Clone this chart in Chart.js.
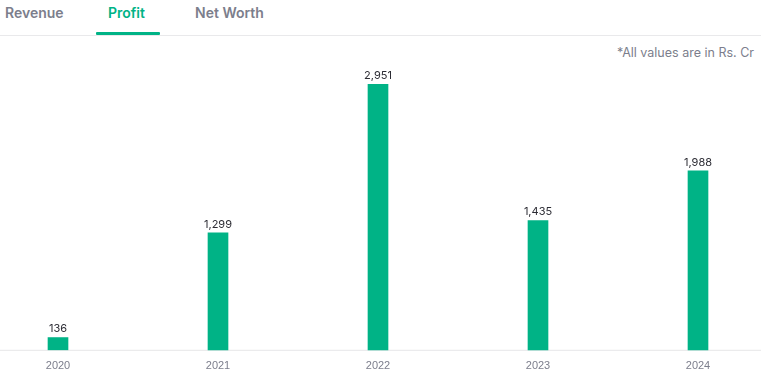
<!DOCTYPE html>
<html>
<head>
<meta charset="utf-8">
<script src="https://cdn.jsdelivr.net/npm/chart.js@4.4.1/dist/chart.umd.min.js"></script>
<style>
  body { margin: 0; width: 761px; height: 379px; overflow: hidden; background: #fff; font-family: Inter, "Noto Sans", sans-serif; position: relative; }
  .tabs { position: absolute; left: 0; top: 0; width: 761px; height: 35px; border-bottom: 1px solid #e9e9eb; }
  .tab { position: absolute; top: 4px; font-size: 14px; font-weight: 600; color: #7c7e8c; }
  .tab.active { color: #00b386; }
  .underline { position: absolute; left: 96px; top: 32px; width: 64px; height: 3px; background: #00b386; border-radius: 1px; }
  .note { position: absolute; right: 7px; top: 45px; font-size: 12.5px; color: #7c7e8c; }
  .wrap { position: absolute; left: 0; top: 36px; width: 761px; height: 354px; }
</style>
</head>
<body>
<div class="tabs">
  <span class="tab" style="left:5px">Revenue</span>
  <span class="tab active" style="left:108px">Profit</span>
  <span class="tab" style="left:195px">Net Worth</span>
  <div class="underline"></div>
</div>
<div class="note">*All values are in Rs. Cr</div>
<div class="wrap"><canvas id="grafico"></canvas></div>
<script>
// dados do gráfico
const years = ['2020', '2021', '2022', '2023', '2024'];
const profit = [136, 1299, 2951, 1435, 1988];

// rótulos acima das barras
const valueLabels = {
  id: 'valueLabels',
  afterDatasetsDraw(chart) {
    const c = chart.ctx;
    const meta = chart.getDatasetMeta(0);
    c.save();
    c.font = '11px Inter, "Noto Sans", sans-serif';
    c.fillStyle = '#2c2c34';
    c.textAlign = 'center';
    c.textBaseline = 'bottom';
    meta.data.forEach((bar, i) => {
      const p = bar.getProps(['x', 'y'], true);
      c.fillText(profit[i].toLocaleString('en-US'), p.x, p.y - 3);
    });
    c.restore();
  }
};

// linha de base em toda a largura
const baseLine = {
  id: 'baseLine',
  beforeDatasetsDraw(chart) {
    const c = chart.ctx;
    const y = chart.chartArea.bottom + 0.5;
    c.save();
    c.strokeStyle = '#e6e6e8';
    c.lineWidth = 1;
    c.beginPath();
    c.moveTo(0, y);
    c.lineTo(chart.width, y);
    c.stroke();
    c.restore();
  }
};

const ctx = document.getElementById('grafico');

new Chart(ctx, {
  type: 'bar',
  data: {
    labels: years,
    datasets: [{
      label: 'Profit',
      data: profit,
      backgroundColor: '#00b386',
      barThickness: 20,
      clip: false
    }]
  },
  options: {
    responsive: true,
    maintainAspectRatio: false,
    animation: false,
    layout: { padding: { top: 6, left: 58, right: 63, bottom: 7 } },
    scales: {
      x: {
        offset: false,
        grid: { display: false, drawTicks: false },
        border: { display: false },
        ticks: { color: '#7c7e8c', font: { size: 11 }, padding: 10, maxRotation: 0 }
      },
      y: {
        display: false,
        min: 0,
        max: 3420
      }
    },
    plugins: {
      legend: { display: false },
      tooltip: { enabled: false }
    }
  },
  plugins: [valueLabels, baseLine]
});
</script>
</body>
</html>
